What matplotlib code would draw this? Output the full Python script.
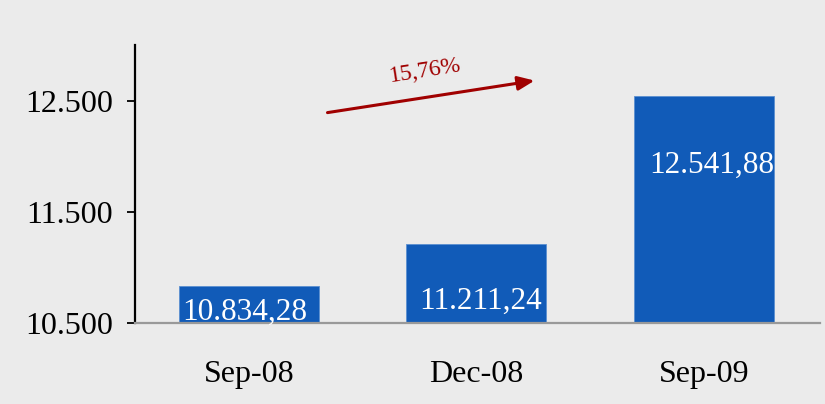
import matplotlib
matplotlib.use('Agg')
import matplotlib.pyplot as plt

categorias = ['Sep-08', 'Dec-08', 'Sep-09']
valores = [10834.28, 11211.24, 12541.88]
rotulos = ['10.834,28', '11.211,24', '12.541,88']
ticks_y = [10500, 11500, 12500]
ticks_y_rotulos = ['10.500', '11.500', '12.500']
variacao = '15,76%'

# deslocamento dos rotulos dentro das barras (pontos abaixo do topo)
desloc_rotulo = [(-3, -19), (3, -41), (6, -50)]

plt.rcParams['font.family'] = ['Liberation Serif', 'DejaVu Serif']

fundo = '#ebebeb'
fig = plt.figure(figsize=(8.25, 4.04), dpi=100, facecolor=fundo)
ax = fig.add_axes([0.1636, 0.2005, 0.9939 - 0.1636, 0.8886 - 0.2005])
ax.set_facecolor(fundo)

x = range(len(categorias))
barras = ax.bar(x, [v - 10500 for v in valores], bottom=10500, width=0.615,
                color='#115bb8', edgecolor='#5b8fd0', linewidth=0.6)

for i, (v, r) in enumerate(zip(valores, rotulos)):
    dx, dy = desloc_rotulo[i]
    ax.annotate(r, xy=(i, v), xytext=(dx, dy), textcoords='offset points',
                ha='center', va='center', color='white', fontsize=22.5)

ax.set_xlim(-0.5, 2.51)
ax.set_ylim(10500, 13000)
ax.set_yticks(ticks_y)
ax.set_yticklabels(ticks_y_rotulos, fontsize=23)
ax.set_xticks(list(x))
ax.set_xticklabels(categorias, fontsize=23)

ax.tick_params(axis='x', length=0, pad=27)
ax.tick_params(axis='y', length=6, width=1.3, pad=10, color='black')

for lado in ['top', 'right']:
    ax.spines[lado].set_visible(False)
ax.spines['left'].set_color('black')
ax.spines['left'].set_linewidth(1.6)
ax.spines['bottom'].set_color('#999999')
ax.spines['bottom'].set_linewidth(1.6)

vermelho = '#a00000'
ax.annotate('', xy=(1.256, 12680), xytext=(0.346, 12392),
            arrowprops=dict(arrowstyle='-|>,head_length=1.0,head_width=0.42',
                            color=vermelho, lw=2.2, shrinkA=0, shrinkB=0))
ax.text(0.775, 12765, variacao, color=vermelho, fontsize=17,
        rotation=9, ha='center', va='center')

fig.savefig('out.png', dpi=100, facecolor=fundo)
